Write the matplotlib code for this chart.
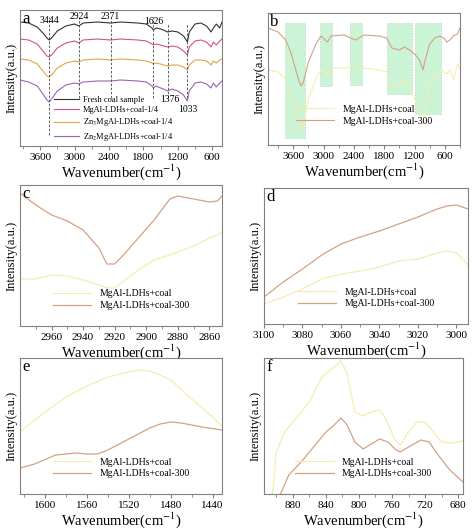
import matplotlib.pyplot as plt
from matplotlib.patches import Rectangle

plt.rcParams["font.family"] = ["Liberation Serif", "DejaVu Serif"]
plt.rcParams["mathtext.fontset"] = "stix"

W, H = 474, 532
YEL = "#f5edb0"
TAN = "#d3a283"
FRAME = "#808080"

# ---- panel a: drop profiles (a.u.) on a shared wavenumber grid, stacked
a_x = [3950, 3800, 3650, 3550, 3480, 3444, 3400, 3300, 3150, 3000, 2924, 2850, 2600, 2371,
       2200, 1900, 1750, 1650, 1626, 1580, 1500, 1450, 1376, 1300, 1200, 1100, 1033, 1000,
       900, 800, 700, 620, 580, 530, 470, 430]
a_black = [0, 1, 5, 11, 16, 18, 16, 9, 4, 2, 4, 1, 0, 1, 0, 1, 2, 6, 8, 6, 7, 8, 10, 9, 10, 14,
           20, 10, 2, 1, 4, 10, 6, 2, 6, 0]
a_pink = [0, 1, 5, 12, 17, 18, 16, 9, 4, 2, 4, 1, 0, 1, 0, 1, 2, 5, 6, 5, 6, 7, 8, 7, 8, 12,
          16, 8, 2, 1, 3, 8, 3, 6, 2, 0]
a_orange = [0, 1, 5, 12, 17, 18, 16, 9, 4, 2, 3, 1, 0, 1, 0, 1, 2, 4, 5, 4, 5, 6, 7, 6, 6, 8,
            11, 6, 1, 1, 2, 6, 2, 4, 1, 0]
a_purple = [0, 2, 6, 14, 20, 22, 19, 11, 5, 3, 4, 2, 1, 1, 0, 1, 2, 6, 8, 6, 8, 9, 11, 9, 11,
            15, 21, 11, 3, 2, 4, 8, 3, 7, 3, 1]
a_offsets = [124, 107, 87, 66]
a_labels = ["Fresh coal sample", "MgAl-LDHs+coal-1/4",
            "Zn$_3$MgAl-LDHs+coal-1/4", "Zn$_2$MgAl-LDHs+coal-1/4"]
a_colors = ["#333333", "#d2508c", "#e0a448", "#9a64b4"]
a_peaks = [3444, 2924, 2371, 1626, 1376, 1033]

# ---- panel b
b_x = [4100, 3900, 3750, 3650, 3550, 3480, 3444, 3400, 3300, 3150, 3050, 2924, 2850, 2600,
       2371, 2200, 1900, 1750, 1650, 1500, 1400, 1300, 1200, 1100, 1033, 1000, 900, 800,
       700, 620, 560, 500, 430, 350, 300]
b_300 = [117, 113, 105, 93, 75, 63, 59, 63, 83, 101, 109, 103, 109, 110, 105, 110, 109, 107,
         97, 95, 98, 95, 91, 85, 75, 83, 101, 107, 109, 107, 103, 105, 109, 111, 117]
b_coal = [75, 73, 66, 52, 32, 19, 14, 20, 46, 67, 75, 71, 77, 77, 79, 77, 75, 73, 57, 61, 65,
          57, 47, 35, 20, 35, 61, 69, 75, 73, 71, 75, 65, 81, 77]
b_boxes = [(3758, 3363, 7, 122), (3067, 2830, 59, 122), (2475, 2240, 60, 122),
           (1745, 1250, 51, 122), (1190, 680, 31, 122)]

# ---- panel c
c_x = [2980, 2970, 2960, 2950, 2940, 2930, 2925, 2920, 2915, 2905, 2895, 2885, 2880, 2870,
       2860, 2855, 2852]
c_300 = [133, 121, 111, 105, 96, 78, 62, 62, 70, 88, 106, 127, 130, 127, 124, 125, 130]
c_coal = [47, 47, 51, 50, 46, 41, 38, 38, 44, 56, 66, 71, 74, 80, 88, 91, 94]

# ---- panel d
d_x = [3100, 3090, 3080, 3070, 3060, 3050, 3040, 3030, 3020, 3010, 3005, 3000, 2994]
d_300 = [27, 42, 55, 69, 80, 87, 93, 100, 107, 115, 118, 119, 115]
d_coal = [20, 27, 35, 45, 50, 53, 57, 63, 65, 71, 73, 71, 59]

# ---- panel e
e_x = [1624, 1600, 1580, 1560, 1540, 1520, 1510, 1500, 1490, 1480, 1460, 1440, 1431]
e_coal = [62, 82, 97, 108, 117, 122, 124, 123, 119, 114, 95, 77, 67]
e_x2 = [1624, 1610, 1590, 1570, 1560, 1550, 1540, 1520, 1500, 1490, 1480, 1470, 1450, 1431]
e_300 = [26, 30, 39, 41, 40, 40, 44, 55, 66, 70, 72, 71, 67, 64]

# ---- panel f
f_x = [905, 900, 890, 880, 860, 845, 830, 822, 815, 805, 795, 785, 775, 770, 755, 750, 740,
       730, 720, 710, 700, 690, 680, 674]
f_coal = [0, 42, 62, 72, 92, 117, 127, 133, 122, 82, 78, 82, 84, 79, 52, 49, 62, 72, 72, 62,
          52, 51, 52, 53]
f_x2 = [895, 885, 870, 855, 840, 830, 822, 815, 805, 795, 785, 775, 765, 755, 750, 740, 725,
        715, 705, 690, 674]
f_300 = [0, 19, 32, 47, 62, 69, 76, 70, 52, 45, 50, 55, 52, 44, 42, 47, 54, 52, 40, 24, 12]

fig = plt.figure(figsize=(W / 100, H / 100), dpi=100)


def make_ax(l, t, r, b, xlim, ticks, ylim, letter, ylab=True):
    ax = fig.add_axes([l / W, 1 - b / H, (r - l) / W, (b - t) / H])
    ax.set_ylim(*ylim)
    ax.set_xticks(ticks)
    ax.set_xticks([(ticks[i] + ticks[i + 1]) / 2 for i in range(len(ticks) - 1)]
                  + [ticks[0] - (ticks[1] - ticks[0]) / 2, ticks[-1] + (ticks[1] - ticks[0]) / 2],
                  minor=True)
    ax.set_xlim(*xlim)
    ax.set_yticks([])
    ax.tick_params(axis="x", labelsize=8, length=3, color=FRAME, pad=2)
    ax.tick_params(axis="x", which="minor", length=2, color=FRAME)
    for s in ax.spines.values():
        s.set_color(FRAME)
    ax.set_xlabel("Wavenumber(cm$^{-1}$)", fontsize=10.5, labelpad=0)
    if ylab:
        ax.set_ylabel("Intensity(a.u.)", fontsize=9, labelpad=2)
    ax.text(0.01, 0.99, letter, transform=ax.transAxes, fontsize=12, va="top", ha="left")
    return ax


def two_legend(ax, y=0.05):
    ax.legend(loc="lower center", bbox_to_anchor=(0.5, y), frameon=False, fontsize=7,
              handlelength=4, labelspacing=0.3)


# a
ax = make_ax(20, 10, 222, 146, (3950, 430), [3600, 3000, 2400, 1800, 1200, 600], (0, 136), "a")
for drops, off, lab, col in zip([a_black, a_pink, a_orange, a_purple], a_offsets, a_labels, a_colors):
    ax.plot(a_x, [off - d for d in drops], color=col, lw=0.8, label=lab)
for p in a_peaks:
    ax.axvline(p, ymin=0.08 if p in (3444,) else 0.35, ymax=0.95 if p not in (1376, 1033) else 0.9,
               color="#444444", ls=(0, (3, 2)), lw=0.6)
for p, yy in [(3444, 130), (2924, 134), (2371, 134), (1626, 129)]:
    ax.text(p, yy, str(p), fontsize=7, ha="center", va="top")
ax.text(1340, 51, "1376", fontsize=7, ha="center", va="top")
ax.text(1033, 41, "1033", fontsize=7, ha="center", va="top")
ax.legend(loc="lower left", bbox_to_anchor=(0.13, -0.03), frameon=False, fontsize=6,
          handlelength=3, labelspacing=0.25, handletextpad=0.5)

# b
ax = make_ax(268, 13, 460, 145, (4100, 300), [3600, 3000, 2400, 1800, 1200, 600], (0, 132), "b")
for x0, x1, y0, y1 in b_boxes:
    ax.add_patch(Rectangle((x1, y0), x0 - x1, y1 - y0, facecolor="#bff0cc", edgecolor="#9fcfaa",
                           lw=0.5, ls=(0, (2, 2)), alpha=0.8))
ax.plot(b_x, b_coal, color=YEL, lw=0.8, label="MgAl-LDHs+coal")
ax.plot(b_x, b_300, color=TAN, lw=0.8, label="MgAl-LDHs+coal-300")
two_legend(ax, 0.08)

# c
ax = make_ax(20, 185, 222, 326, (2980, 2852), [2960, 2940, 2920, 2900, 2880, 2860], (0, 141), "c")
ax.plot(c_x, c_coal, color=YEL, lw=0.9, label="MgAl-LDHs+coal")
ax.plot(c_x, c_300, color=TAN, lw=0.9, label="MgAl-LDHs+coal-300")
two_legend(ax)

# d
ax = make_ax(264, 188, 468, 324, (3100, 2994), [3100, 3080, 3060, 3040, 3020, 3000], (0, 136), "d")
ax.plot(d_x, d_coal, color=YEL, lw=0.9, label="MgAl-LDHs+coal")
ax.plot(d_x, d_300, color=TAN, lw=0.9, label="MgAl-LDHs+coal-300")
two_legend(ax)

# e
ax = make_ax(20, 358, 222, 494, (1624, 1431), [1600, 1560, 1520, 1480, 1440], (0, 136), "e")
ax.plot(e_x, e_coal, color=YEL, lw=0.9, label="MgAl-LDHs+coal")
ax.plot(e_x2, e_300, color=TAN, lw=0.9, label="MgAl-LDHs+coal-300")
two_legend(ax)

# f
ax = make_ax(264, 358, 463, 494, (915, 674), [880, 840, 800, 760, 720, 680], (0, 136), "f")
ax.plot(f_x, f_coal, color=YEL, lw=0.9, label="MgAl-LDHs+coal")
ax.plot(f_x2, f_300, color=TAN, lw=0.9, label="MgAl-LDHs+coal-300")
two_legend(ax)

fig.savefig("out.png", dpi=100)
